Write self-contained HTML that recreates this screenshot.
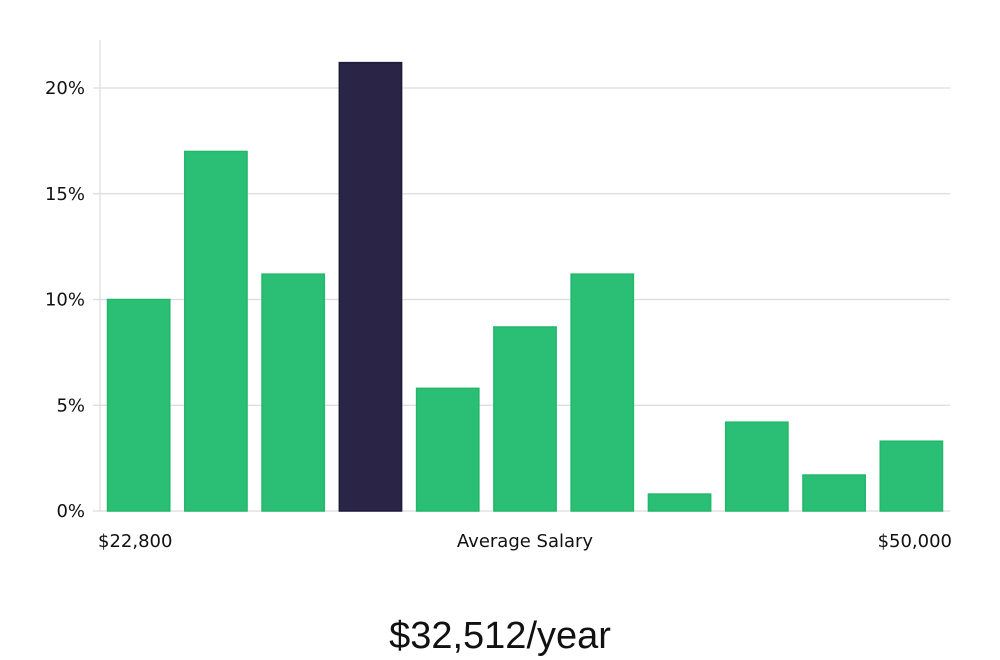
<!DOCTYPE html>
<html><head><meta charset="utf-8"><style>
body{margin:0;background:#fff;width:1000px;height:660px;overflow:hidden}
svg{display:block;font-family:"DejaVu Sans","Liberation Sans",sans-serif}
</style></head><body>
<svg id="chart" width="1000" height="660" viewBox="0 0 1000 660" xmlns="http://www.w3.org/2000/svg">
<g id="grid"></g><g id="bars"></g><g id="axes"></g>
<text x="98" y="547" font-size="18" fill="#111">$22,800</text>
<text x="525" y="547" font-size="18" fill="#111" text-anchor="middle">Average Salary</text>
<text x="952" y="547" font-size="18" fill="#111" text-anchor="end">$50,000</text>
<text x="500" y="648" font-size="38" fill="#111" text-anchor="middle" font-family="Liberation Sans, sans-serif" font-weight="300">$32,512/year</text>
</svg>
<script>
const values=[10.0,17.0,11.2,21.2,5.8,8.7,11.2,0.8,4.2,1.7,3.3];
const highlight=[false,false,false,true,false,false,false,false,false,false,false];
const ticks=[0,5,10,15,20];
const tickLabels=["0%","5%","10%","15%","20%"];
const NS="http://www.w3.org/2000/svg";
const x0=100,x1=950,y0=511,pxPer=21.15;
const y=v=>y0-v*pxPer;
const step=(x1-x0)/values.length;
const xb=i=>x0+i*step;
const grid=document.getElementById('grid'),bars=document.getElementById('bars'),axes=document.getElementById('axes');
function mk(tag,attrs,parent){const e=document.createElementNS(NS,tag);for(const k in attrs)e.setAttribute(k,attrs[k]);parent.appendChild(e);return e;}
ticks.forEach((t,i)=>{
  const l=mk('line',{x1:x0-7,x2:x1,y1:y(t),y2:y(t),stroke:'#dcdcdc','stroke-width':1.2},grid);
  
  
  const tx=mk('text',{x:85,y:y(t)+6,'font-size':18,fill:'#111','text-anchor':'end'},axes);
  tx.textContent=tickLabels[i];
  
  
});
const ax=mk('line',{x1:x0,x2:x0,y1:40,y2:y0,stroke:'#dcdcdc','stroke-width':1.2},axes);


values.forEach((v,i)=>{
  const r=mk('rect',{x:xb(i)+7.5,y:y(v),width:step-15,height:y0-y(v),fill:highlight[i]?'#2a2547':'#2bbf76',stroke:highlight[i]?'#1d1a3a':'#22b76b','stroke-width':1.5},bars);
  
  
});
</script>
</body></html>
